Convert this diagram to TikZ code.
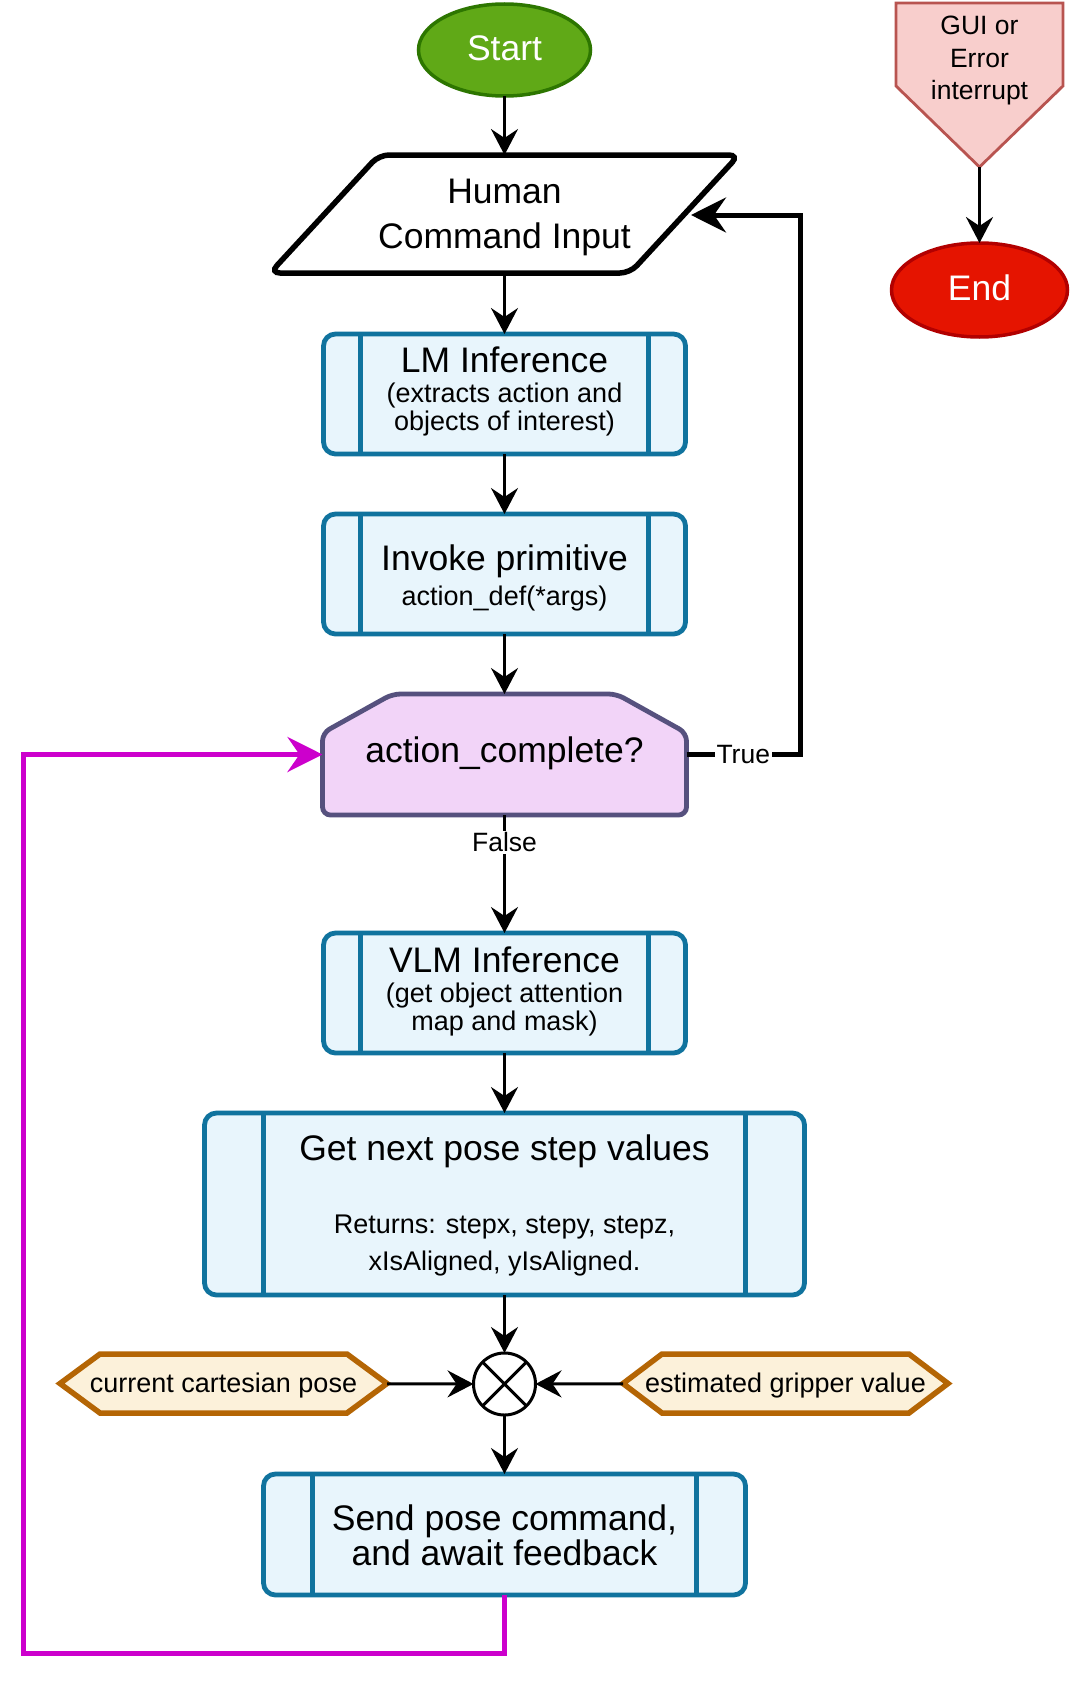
\documentclass[tikz,border=0pt]{standalone}
\usepackage{fontspec}
\setmainfont{Liberation Sans}
\usetikzlibrary{arrows.meta,shapes.geometric}
\definecolor{procblue}{HTML}{10739E}
\definecolor{procfill}{HTML}{E8F5FC}
\definecolor{actdraw}{HTML}{56517E}
\definecolor{actfill}{HTML}{F2D4F8}
\definecolor{hexdraw}{HTML}{B46504}
\definecolor{hexfill}{HTML}{FCF1DA}
\definecolor{guidraw}{HTML}{B85450}
\definecolor{guifill}{HTML}{F8CECC}
\definecolor{enddraw}{HTML}{B20000}
\definecolor{endfill}{HTML}{E51400}
\definecolor{startdraw}{HTML}{2D7600}
\definecolor{startfill}{HTML}{60A917}
\definecolor{loopmag}{HTML}{CC00CC}
\newcommand\BigTxt{\fontsize{35.5}{42}\selectfont}
\newcommand\SmTxt{\fontsize{27}{32}\selectfont}
\begin{document}
\begin{tikzpicture}[x=1pt,y=-1pt,
  box/.style={inner sep=0pt, outer sep=0pt},
  proc/.style={box, draw=procblue, fill=procfill, line width=4.8pt, rounded corners=12pt},
  procline/.style={draw=procblue, line width=4.8pt},
  hexsty/.style={draw=hexdraw, fill=hexfill, line width=5.5pt, line join=miter},
  bt/.style={anchor=base, inner sep=0pt, font=\BigTxt},
  st/.style={anchor=base, inner sep=0pt, font=\SmTxt},
  conn/.style={draw=black, line width=3pt, -{Stealth[length=26pt,width=27pt,inset=9pt]}},
  thickconn/.style={line width=5pt, -{Stealth[length=35pt,width=35pt,inset=12pt]}},
  lbl/.style={fill=white, inner sep=1.5pt, font=\fontsize{26.5}{30}\selectfont},
]
\fill[white] (0,0) rectangle (1071,1683);
\useasboundingbox (0,0) rectangle (1071,1683);

% Start
\node[box, ellipse, draw=startdraw, fill=startfill, line width=3.5pt, minimum width=172pt, minimum height=92pt] (start) at (504.5,50) {};
\node[bt, text=white] (starttxt) at (504.5,61) {Start};

% Human command input
\node[box, minimum width=469pt, minimum height=118pt] (hum) at (504.5,214) {};
\draw[line width=5.5pt, rounded corners=10pt, fill=white]
  ([xshift=109pt]hum.north west) -- (hum.north east) -- ([xshift=-109pt]hum.south east) -- (hum.south west) -- cycle;
\node[bt] (humtxt1) at (504.5,203) {Human};
\node[bt] (humtxt2) at (504.5,248) {Command Input};

% LM inference
\node[proc, minimum width=362pt, minimum height=120pt] (lm) at (504.5,394) {};
\draw[procline] ([xshift=37pt]lm.north west) -- ([xshift=37pt]lm.south west);
\draw[procline] ([xshift=-37pt]lm.north east) -- ([xshift=-37pt]lm.south east);
\node[bt] (lmtxt1) at (504.5,372) {LM Inference};
\node[st] (lmtxt2) at (504.5,402) {(extracts action and};
\node[st] (lmtxt3) at (504.5,430) {objects of interest)};

% Invoke primitive
\node[proc, minimum width=362pt, minimum height=120pt] (inv) at (504.5,574) {};
\draw[procline] ([xshift=37pt]inv.north west) -- ([xshift=37pt]inv.south west);
\draw[procline] ([xshift=-37pt]inv.north east) -- ([xshift=-37pt]inv.south east);
\node[bt] (invtxt1) at (504.5,570) {Invoke primitive};
\node[st] (invtxt2) at (504.5,605) {action\_def(*args)};

% action_complete?
\node[box, minimum width=364pt, minimum height=121pt] (act) at (504.5,754.5) {};
\draw[draw=actdraw, fill=actfill, line width=4.8pt, rounded corners=8pt]
  ([xshift=70pt]act.north west) -- ([xshift=-70pt]act.north east) -- ([yshift=-39pt]act.north east)
  -- (act.south east) -- (act.south west) -- ([yshift=-39pt]act.north west) -- cycle;
\node[bt] (acttxt) at (504.5,762) {action\_complete?};

% VLM inference
\node[proc, minimum width=362pt, minimum height=120pt] (vlm) at (504.5,993) {};
\draw[procline] ([xshift=37pt]vlm.north west) -- ([xshift=37pt]vlm.south west);
\draw[procline] ([xshift=-37pt]vlm.north east) -- ([xshift=-37pt]vlm.south east);
\node[bt] (vlmtxt1) at (504.5,972) {VLM Inference};
\node[st] (vlmtxt2) at (504.5,1002) {(get object attention};
\node[st] (vlmtxt3) at (504.5,1030) {map and mask)};

% Get next pose step values
\node[proc, minimum width=600pt, minimum height=182pt] (nxt) at (504.5,1204) {};
\draw[procline] ([xshift=59pt]nxt.north west) -- ([xshift=59pt]nxt.south west);
\draw[procline] ([xshift=-59pt]nxt.north east) -- ([xshift=-59pt]nxt.south east);
\node[bt] (nxttxt1) at (504.5,1160) {Get next pose step values};
\node[st] (nxttxt2) at (504.5,1233) {Returns: stepx, stepy, stepz,};
\node[st] (nxttxt3) at (504.5,1270) {xIsAligned, yIsAligned.};

% mixer
\node[box, circle, draw, fill=white, line width=3pt, minimum size=62pt] (mix) at (504.5,1384) {};
\draw[line width=3pt] (mix.north west) -- (mix.south east) (mix.north east) -- (mix.south west);

% hexagons
\node[box, minimum width=327pt, minimum height=59pt] (curp) at (223.5,1383.5) {};
\draw[hexsty] (curp.west) -- ([xshift=40pt]curp.north west) -- ([xshift=-40pt]curp.north east) -- (curp.east)
  -- ([xshift=-40pt]curp.south east) -- ([xshift=40pt]curp.south west) -- cycle;
\node[st] (curptxt) at (223.5,1392) {current cartesian pose};
\node[box, minimum width=325pt, minimum height=59pt] (grip) at (785.5,1383.5) {};
\draw[hexsty] (grip.west) -- ([xshift=39pt]grip.north west) -- ([xshift=-39pt]grip.north east) -- (grip.east)
  -- ([xshift=-39pt]grip.south east) -- ([xshift=39pt]grip.south west) -- cycle;
\node[st] (griptxt) at (785.5,1392) {estimated gripper value};

% Send pose command
\node[proc, minimum width=482pt, minimum height=121pt] (snd) at (504.5,1534.5) {};
\draw[procline] ([xshift=49pt]snd.north west) -- ([xshift=49pt]snd.south west);
\draw[procline] ([xshift=-49pt]snd.north east) -- ([xshift=-49pt]snd.south east);
\node[bt] (sndtxt1) at (504.5,1530) {Send pose command,};
\node[bt] (sndtxt2) at (504.5,1565) {and await feedback};

% GUI or Error interrupt
\node[box, minimum width=167pt, minimum height=164pt] (gui) at (979.5,85) {};
\draw[draw=guidraw, fill=guifill, line width=2.8pt]
  (gui.north west) -- (gui.north east) -- ([yshift=81pt]gui.south east) -- (gui.south)
  -- ([yshift=81pt]gui.south west) -- cycle;
\node[st, font=\fontsize{26.5}{30}\selectfont] (guitxt1) at (979.5,35) {GUI or};
\node[st, font=\fontsize{26.5}{30}\selectfont] (guitxt2) at (979.5,68) {Error};
\node[st, font=\fontsize{26.5}{30}\selectfont] (guitxt3) at (979.5,100) {interrupt};

% End
\node[box, ellipse, draw=enddraw, fill=endfill, line width=3.5pt, minimum width=176pt, minimum height=94pt] (end) at (979.5,290) {};
\node[bt, text=white] (endtxt) at (979.5,300) {End};

% connectors
\draw[conn] (start) -- (hum);
\draw[conn] (hum) -- (lm);
\draw[conn] (lm) -- (inv);
\draw[conn] (inv) -- (act);
\draw[conn] (act) -- node[lbl, pos=0.233] (falselbl) {False} (vlm);
\draw[conn] (vlm) -- (nxt);
\draw[conn] (nxt) -- (mix);
\draw[conn] (curp) -- (mix);
\draw[conn] (grip) -- (mix);
\draw[conn] (mix) -- (snd);
\draw[conn] (gui) -- (end);

\coordinate (tcorner) at (800,215);
\coordinate (hin) at (691,215);
\draw[thickconn] (act.east) -| node[lbl, pos=0.25] (truelbl) {True} (tcorner) -- (hin);

\coordinate (mcorner) at (23,1653);
\draw[loopmag, thickconn] (snd.south) |- (mcorner) |- (act.west);
\end{tikzpicture}
\end{document}
